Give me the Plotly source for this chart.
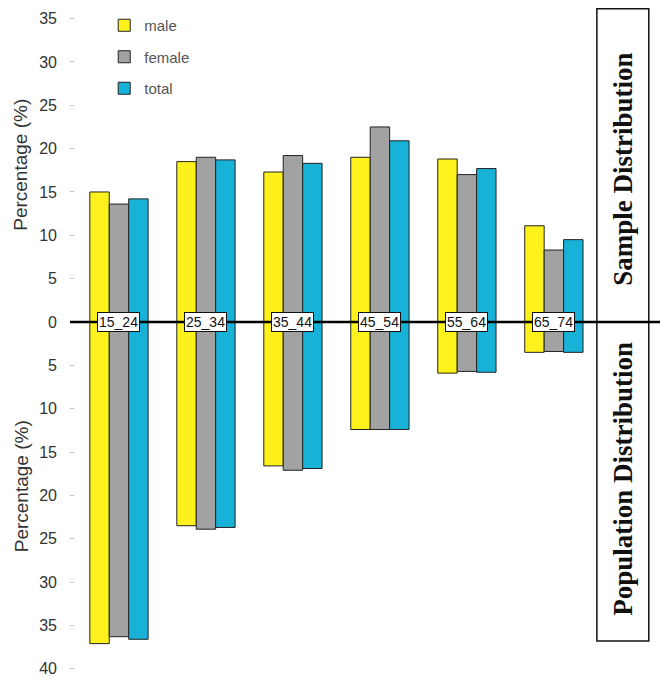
import plotly.graph_objects as go

age_groups = ["15_24", "25_34", "35_44", "45_54", "55_64", "65_74"]
sample_male = [15.0, 18.5, 17.3, 19.0, 18.8, 11.1]
sample_female = [13.6, 19.0, 19.2, 22.5, 17.0, 8.3]
sample_total = [14.2, 18.7, 18.3, 20.9, 17.7, 9.5]
pop_male = [37.1, 23.5, 16.6, 12.4, 5.9, 3.5]
pop_female = [36.3, 23.9, 17.1, 12.4, 5.7, 3.4]
pop_total = [36.6, 23.7, 16.9, 12.4, 5.8, 3.5]
tick_values = [35, 30, 25, 20, 15, 10, 5, 0, -5, -10, -15, -20, -25, -30, -35, -40]
tick_labels = [str(abs(v)) for v in tick_values]

series = [
    ("male", sample_male, pop_male, "#FFF21C"),
    ("female", sample_female, pop_female, "#A2A2A2"),
    ("total", sample_total, pop_total, "#18B2D8"),
]

fig = go.Figure()
for i, (name, s, p, col) in enumerate(series):
    fig.add_trace(go.Bar(
        x=age_groups, y=s, name=name, offsetgroup=str(i), legendgroup=name,
        marker=dict(color=col, line=dict(color="#222222", width=1)),
    ))
    fig.add_trace(go.Bar(
        x=age_groups, y=[-v for v in p], name=name, offsetgroup=str(i),
        legendgroup=name, showlegend=False,
        marker=dict(color=col, line=dict(color="#222222", width=1)),
    ))

annotations = []
for g in age_groups:
    annotations.append(dict(
        x=g, y=0, xref="x", yref="y", text=g, showarrow=False,
        font=dict(family="Liberation Sans, Arial", size=14, color="#111"),
        bgcolor="white", bordercolor="#111", borderwidth=1, borderpad=1,
    ))
for txt, yy in [("Percentage (%)", 0.765), ("Percentage (%)", 0.283)]:
    annotations.append(dict(
        x=-0.083, y=yy, xref="paper", yref="paper", text=txt, showarrow=False,
        xanchor="center", yanchor="middle", textangle=-90,
        font=dict(family="Liberation Sans, Arial", size=19, color="#333"),
    ))
for txt, yy in [("<b>Sample Distribution</b>", 0.7586), ("<b>Population Distribution</b>", 0.294)]:
    annotations.append(dict(
        x=0.937, y=yy, xref="paper", yref="paper", text=txt, showarrow=False,
        xanchor="center", yanchor="middle", textangle=-90,
        font=dict(family="Liberation Serif, Times New Roman", size=27, color="#111"),
    ))

fig.update_layout(
    width=661, height=673,
    margin=dict(l=62, r=9, t=0, b=6),
    barmode="relative", bargap=0.33, bargroupgap=0,
    plot_bgcolor="white", paper_bgcolor="white",
    showlegend=True,
    legend=dict(x=0.058, y=0.9985, xanchor="left", yanchor="top",
                bgcolor="rgba(0,0,0,0)", tracegroupgap=9, itemwidth=30,
                font=dict(family="Liberation Sans, Arial", size=15, color="#555")),
    xaxis=dict(range=[-0.563, 6.22], showticklabels=False, showgrid=False,
               zeroline=False, showline=False, ticks=""),
    yaxis=dict(range=[-40.72, 36.22], tickvals=tick_values, ticktext=tick_labels,
               showgrid=False, zeroline=False, showline=False,
               ticks="inside", ticklen=4, tickcolor="#c8c8c8", ticklabelstandoff=12,
               tickfont=dict(family="Liberation Sans, Arial", size=16, color="#333")),
    annotations=annotations,
    shapes=[
        dict(type="rect", xref="paper", yref="paper", x0=0.893, x1=0.981,
             y0=0.051, y1=0.999, line=dict(color="#111", width=1.5), fillcolor="rgba(0,0,0,0)"),
        dict(type="line", xref="paper", yref="y", x0=0, x1=1, y0=0, y1=0,
             line=dict(color="#000", width=2.5), layer="above"),
    ],
)

fig.write_html("out.html")
